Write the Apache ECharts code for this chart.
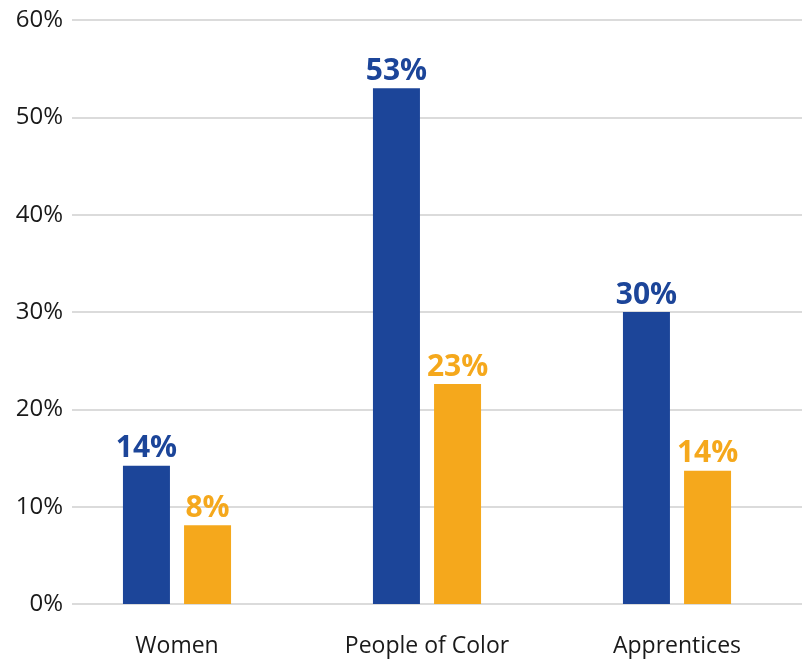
<!DOCTYPE html>
<html><head><meta charset="utf-8">
<style>html,body{margin:0;padding:0;background:#fff}#c{width:802px;height:662px}</style>
<script src="https://cdn.jsdelivr.net/npm/echarts@6/dist/echarts.min.js"></script>
</head><body><div id="c"></div>
<script>
const categories = ['Women', 'People of Color', 'Apprentices'];
const seriesA = [14.2, 53.0, 30.0];
const seriesB = [8.1, 22.6, 13.7];
const labelsA = ['14%', '53%', '30%'];
const labelsB = ['8%', '23%', '14%'];
const yTicks = [0, 10, 20, 30, 40, 50, 60];

const font = '"Open Sans", "Noto Sans", sans-serif';
const chart = echarts.init(document.getElementById('c'));
chart.setOption({
  animation: false,
  grid: [
    {left: 72, right: 0, top: 20, bottom: 58},
    {left: 52, right: -1, top: 20, bottom: 58}
  ],
  xAxis: [
    {gridIndex: 0, type: 'category', data: categories, show: false},
    {gridIndex: 1, type: 'category', data: categories,
     axisLine: {show: false}, axisTick: {show: false},
     axisLabel: {color: '#1a1a1a', fontSize: 23, fontFamily: font, margin: 31}}
  ],
  yAxis: [
    {gridIndex: 0, type: 'value', min: yTicks[0], max: yTicks[yTicks.length-1], interval: 10,
     axisLine: {show: false}, axisTick: {show: false},
     axisLabel: {formatter: v => v + '%', color: '#1a1a1a', fontSize: 24, fontFamily: font, margin: 9},
     splitLine: {lineStyle: {color: '#cfcfcf', width: 1.5}}},
    {gridIndex: 1, type: 'value', min: yTicks[0], max: yTicks[yTicks.length-1], interval: 10, show: false,
     splitLine: {show: false}}
  ],
  series: [
    {type: 'bar', xAxisIndex: 1, yAxisIndex: 1, data: seriesA, barWidth: 47, barGap: '30%',
     itemStyle: {color: '#1c4599'},
     label: {show: true, position: 'top', distance: 2, color: '#1c4599', fontSize: 30, fontWeight: 'bold', fontFamily: font,
       formatter: p => labelsA[p.dataIndex]}},
    {type: 'bar', xAxisIndex: 1, yAxisIndex: 1, data: seriesB, barWidth: 47, barGap: '30%',
     itemStyle: {color: '#f5a81c'},
     label: {show: true, position: 'top', distance: 2, color: '#f5a81c', fontSize: 30, fontWeight: 'bold', fontFamily: font,
       formatter: p => labelsB[p.dataIndex]}}
  ]
});
</script></body></html>
